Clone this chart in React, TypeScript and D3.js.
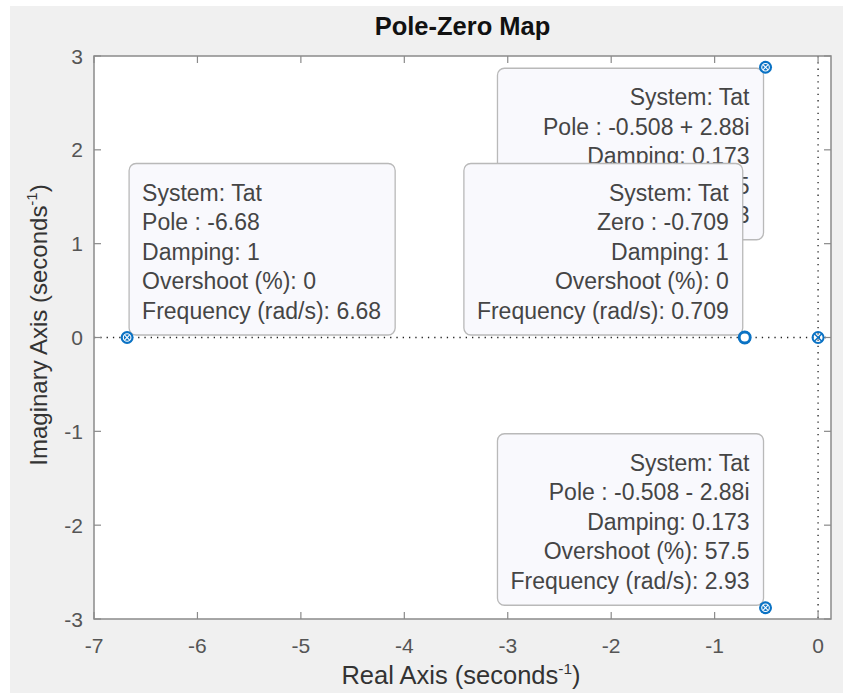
import React, { useMemo } from "react";
import * as d3 from "d3";

const xTicks = [-7, -6, -5, -4, -3, -2, -1, 0];
const yTicks = [-3, -2, -1, 0, 1, 2, 3];

const poleRe = [-6.68, -0.508, -0.508, 0];
const poleIm = [0, 2.88, -2.88, 0];
const zeroRe = [-0.709, 0];
const zeroIm = [0, 0];

const tipSystem = "Tat";
const tipKind = ["Pole", "Pole", "Zero", "Pole"];
const tipRe = [-0.508, -6.68, -0.709, -0.508];
const tipIm = [2.88, 0, 0, -2.88];
const tipValue = ["-0.508 + 2.88i", "-6.68", "-0.709", "-0.508 - 2.88i"];
const tipDamping = ["0.173", "1", "1", "0.173"];
const tipOvershoot = ["57.5", "0", "0", "57.5"];
const tipFreq = ["2.93", "6.68", "0.709", "2.93"];
const tipAnchor = ["tr", "bl", "br", "br"];

const W = 843;
const H = 693;
const M = { left: 94, top: 56, right: 831, bottom: 619 };
const FONT = "'Liberation Sans', Arial, Helvetica, sans-serif";
const BLUE = "#0a72c4";
const TIP_FONT = 23;
const LINE_H = 29.5;

function measure(text: string, size: number) {
  if (typeof document === "undefined") return text.length * size * 0.5;
  const c = document.createElement("canvas").getContext("2d");
  if (!c) return text.length * size * 0.5;
  c.font = `${size}px 'Liberation Sans', Arial`;
  return c.measureText(text).width;
}

export default function App() {
  const x = d3.scaleLinear().domain([-7, 0.125]).range([M.left, M.right]);
  const y = d3.scaleLinear().domain([-3, 3]).range([M.bottom, M.top]);

  const tips = useMemo(
    () =>
      tipKind.map((k, i) => {
        const lines = [
          `System: ${tipSystem}`,
          `${k} : ${tipValue[i]}`,
          `Damping: ${tipDamping[i]}`,
          `Overshoot (%): ${tipOvershoot[i]}`,
          `Frequency (rad/s): ${tipFreq[i]}`,
        ];
        const tw = Math.max(...lines.map((l) => measure(l, TIP_FONT)));
        return { lines, w: tw + 27, h: LINE_H * 5 + 24 };
      }),
    []
  );

  const tickLen = 7;
  const axisColor = "#8a8a8a";

  return (
    <svg width={W} height={H} style={{ display: "block", position: "absolute", left: 0, top: 0 }}>
      <rect x={10} y={6} width={W - 10} height={H - 6} fill="#f0f0f0" />
      <rect x={M.left} y={M.top} width={M.right - M.left} height={M.bottom - M.top} fill="#ffffff" />

      {/* title */}
      <text x={(M.left + M.right) / 2} y={35} textAnchor="middle" fontFamily={FONT} fontWeight="bold" fontSize={25.5} fill="#111">
        Pole-Zero Map
      </text>

      {/* dotted zero lines */}
      <line x1={M.left} x2={M.right} y1={y(0)} y2={y(0)} stroke="#222" strokeWidth={1.3} strokeDasharray="1.3 5" />
      <line x1={x(0)} x2={x(0)} y1={M.top} y2={M.bottom} stroke="#222" strokeWidth={1.3} strokeDasharray="1.3 5" />

      {/* ticks */}
      {xTicks.map((t) => (
        <g key={"xt" + t}>
          <line x1={x(t)} x2={x(t)} y1={M.bottom} y2={M.bottom - tickLen} stroke={axisColor} strokeWidth={1.2} />
          <line x1={x(t)} x2={x(t)} y1={M.top} y2={M.top + tickLen} stroke={axisColor} strokeWidth={1.2} />
          <text x={x(t)} y={653} textAnchor="middle" fontFamily={FONT} fontSize={21} fill="#555">
            {t}
          </text>
        </g>
      ))}
      {yTicks.map((t) => (
        <g key={"yt" + t}>
          <line x1={M.left} x2={M.left + tickLen} y1={y(t)} y2={y(t)} stroke={axisColor} strokeWidth={1.2} />
          <line x1={M.right} x2={M.right - tickLen} y1={y(t)} y2={y(t)} stroke={axisColor} strokeWidth={1.2} />
          <text x={83} y={y(t)} dy="0.36em" textAnchor="end" fontFamily={FONT} fontSize={21} fill="#555">
            {t}
          </text>
        </g>
      ))}

      {/* axes box */}
      <rect x={M.left} y={M.top} width={M.right - M.left} height={M.bottom - M.top} fill="none" stroke={axisColor} strokeWidth={1.5} />

      {/* axis labels */}
      <text x={461} y={684} textAnchor="middle" fontFamily={FONT} fontSize={25.5} fill="#333">
        Real Axis (seconds
        <tspan fontSize={15.5} dy={-10}>-1</tspan>
        <tspan dy={10}>)</tspan>
      </text>
      <text
        transform={`translate(47,325) rotate(-90)`}
        textAnchor="middle"
        fontFamily={FONT}
        fontSize={24}
        fill="#333"
      >
        Imaginary Axis (seconds
        <tspan fontSize={15} dy={-10}>-1</tspan>
        <tspan dy={10}>)</tspan>
      </text>

      {/* zeros (o) */}
      {zeroRe.map((r, i) => (
        <circle key={"z" + i} cx={x(r)} cy={y(zeroIm[i])} r={5.5} fill="none" stroke={BLUE} strokeWidth={2} />
      ))}

      {/* poles (x) */}
      {poleRe.map((r, i) => {
        const cx = x(r);
        const cy = y(poleIm[i]);
        const s = 4;
        return (
          <g key={"p" + i} stroke={BLUE} strokeWidth={1.5}>
            <line x1={cx - s} y1={cy - s} x2={cx + s} y2={cy + s} />
            <line x1={cx - s} y1={cy + s} x2={cx + s} y2={cy - s} />
          </g>
        );
      })}

      {/* data tips */}
      {tips.map((tp, i) => {
        const px = x(tipRe[i]);
        const py = y(tipIm[i]);
        const a = tipAnchor[i];
        const bx = a[1] === "r" ? px - 2 - tp.w : px + 2;
        const by = a[0] === "t" ? py + 1 : py - 2.5 - tp.h;
        const alignRight = a[1] === "r";
        return (
          <g key={"tip" + i}>
            <rect x={bx} y={by} width={tp.w} height={tp.h} rx={7} ry={7} fill="#f9f9fd" stroke="#b9b9b9" strokeWidth={1.3} />
            {tp.lines.map((l, j) => (
              <text
                key={j}
                x={alignRight ? bx + tp.w - 14 : bx + 13}
                y={by + 37 + j * LINE_H}
                textAnchor={alignRight ? "end" : "start"}
                fontFamily={FONT}
                fontSize={TIP_FONT}
                fill="#454545"
              >
                {l}
              </text>
            ))}
          </g>
        );
      })}

      {/* datatip markers */}
      {tipRe.map((r, i) => {
        const cx = x(r);
        const cy = y(tipIm[i]);
        if (tipKind[i] === "Zero") {
          return (
            <g key={"m" + i}>
              <circle cx={cx} cy={cy} r={5.5} fill="#ffffff" stroke={BLUE} strokeWidth={2.8} />
            </g>
          );
        }
        return (
          <g key={"m" + i}>
            <circle cx={cx} cy={cy} r={6.5} fill={BLUE} />
            <circle cx={cx} cy={cy} r={3.8} fill="none" stroke="#ffffff" strokeWidth={1.1} />
            <line x1={cx - 2.6} y1={cy - 2.6} x2={cx + 2.6} y2={cy + 2.6} stroke="#ffffff" strokeWidth={1.1} />
            <line x1={cx - 2.6} y1={cy + 2.6} x2={cx + 2.6} y2={cy - 2.6} stroke="#ffffff" strokeWidth={1.1} />
          </g>
        );
      })}
    </svg>
  );
}
